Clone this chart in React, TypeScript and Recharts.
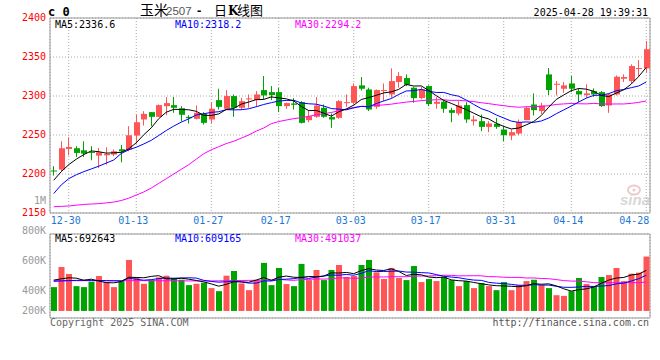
import React from 'react';
import { ComposedChart, Bar, Line, XAxis, YAxis, CartesianGrid, ReferenceArea, Cell } from 'recharts';

const dates = [
  '12-26','12-27','12-30','12-31','01-02','01-03','01-06','01-07','01-08','01-09',
  '01-10','01-13','01-14','01-15','01-16','01-17','01-20','01-21','01-22','01-23',
  '01-24','01-27','02-05','02-06','02-07','02-10','02-11','02-12','02-13','02-14',
  '02-17','02-18','02-19','02-20','02-21','02-24','02-25','02-26','02-27','02-28',
  '03-03','03-04','03-05','03-06','03-07','03-10','03-11','03-12','03-13','03-14',
  '03-17','03-18','03-19','03-20','03-21','03-24','03-25','03-26','03-27','03-28',
  '03-31','04-01','04-02','04-03','04-07','04-08','04-09','04-10','04-11','04-14',
  '04-15','04-16','04-17','04-18','04-21','04-22','04-23','04-24','04-25','04-28',
];

const opens = [
  2204.5, 2205.6, 2232.1, 2233, 2230.4, 2228.3, 2223.6, 2224, 2224.9, 2231.7,
  2231.3, 2249.3, 2269.9, 2279.3, 2273.3, 2287, 2288.3, 2284.4, 2273.3, 2270.7,
  2277.1, 2269.9, 2294.7, 2283.6, 2299.9, 2284.9, 2295.6, 2294.7, 2307.6, 2305,
  2305, 2287, 2290.4, 2292.1, 2269, 2273.3, 2284.9, 2272.9, 2272, 2290.9,
  2291.3, 2313.6, 2308.4, 2286.1, 2306.3, 2302, 2317.9, 2323, 2310.6, 2297.3,
  2312.7, 2290, 2292.6, 2281.9, 2277.6, 2288.3, 2267.7, 2267.7, 2260.4, 2264.3,
  2257, 2249.3, 2251.9, 2269, 2289.1, 2280.6, 2327.7, 2314.4, 2309.3, 2316.1,
  2306.3, 2301.1, 2306.3, 2305, 2287.9, 2302, 2322.1, 2319.1, 2335, 2335.4,
];
const highs = [
  2210, 2242, 2247.1, 2235.6, 2242, 2235.6, 2233.4, 2234.3, 2231.3, 2237.3,
  2261.3, 2276.3, 2280.6, 2279.5, 2289.1, 2298.6, 2298.6, 2287, 2275.4, 2287.9,
  2279.3, 2292.1, 2309.3, 2307.6, 2302, 2297.7, 2302, 2306.3, 2325.6, 2312.7,
  2310.6, 2291.7, 2297.3, 2293.4, 2281.9, 2298.6, 2289.1, 2277.6, 2294.7, 2302,
  2316.1, 2324.3, 2310.6, 2308.4, 2316.1, 2335.4, 2330.7, 2327.7, 2311.9, 2311.9,
  2313.6, 2298.6, 2294.7, 2284.9, 2293.4, 2292.1, 2275, 2276.3, 2267.7, 2272,
  2262.1, 2257, 2269.9, 2286.1, 2303.3, 2291.3, 2335.9, 2319.1, 2317.9, 2325.6,
  2309.3, 2314.9, 2309.7, 2306.3, 2303.3, 2326.4, 2327.7, 2340.6, 2346.1, 2370.6,
];
const lows = [
  2198, 2203.4, 2224, 2221.9, 2221.9, 2217.6, 2207.7, 2212, 2222.7, 2215,
  2229.1, 2239, 2262.1, 2261.3, 2273, 2275.4, 2278.4, 2267.7, 2264.7, 2270,
  2263.4, 2264.7, 2282.7, 2282.7, 2273.3, 2281.9, 2284.9, 2286.1, 2295.6, 2294.7,
  2279.3, 2283.6, 2282.7, 2264.7, 2266.4, 2272, 2272, 2259.1, 2270.7, 2286.1,
  2289.1, 2307.1, 2280.6, 2283.6, 2293.4, 2297.7, 2310.6, 2312.7, 2291.3, 2295.6,
  2287, 2283.6, 2278.4, 2266.4, 2275, 2265.6, 2262.1, 2254.9, 2253.6, 2257.9,
  2242, 2243.3, 2249.7, 2269, 2275, 2277.1, 2301.1, 2300.7, 2304.1, 2305,
  2292.1, 2297.7, 2299, 2286.1, 2278.4, 2300.7, 2317.9, 2316.1, 2324.7, 2329.9,
];
const closes = [
  2203.5, 2233, 2234.7, 2227, 2226.1, 2227.2, 2227.9, 2225.7, 2229.1, 2229.1,
  2249.7, 2266.4, 2277.1, 2273.3, 2288.3, 2290.9, 2284.9, 2275.9, 2271.6, 2278.4,
  2265.6, 2283.6, 2286.1, 2299.9, 2284.9, 2293.4, 2296.9, 2302, 2300.7, 2301.1,
  2287, 2290.9, 2288.7, 2265.6, 2274.1, 2287.9, 2273.3, 2269.9, 2293.4, 2292.1,
  2312.7, 2309.3, 2282.7, 2307.6, 2307.6, 2319.1, 2325.6, 2314.4, 2297.3, 2308.4,
  2289.6, 2292.6, 2283.6, 2278.4, 2287.9, 2269.9, 2269.9, 2260.4, 2264.7, 2260.4,
  2249.7, 2253.6, 2266.4, 2284.9, 2281.9, 2287.9, 2307.6, 2315.7, 2313.6, 2309.3,
  2302, 2303.3, 2302, 2287, 2302, 2324.7, 2324.3, 2338.4, 2335.9, 2360,
];
const volumes = [
  407000, 751000, 631000, 424000, 407000, 499000, 596000, 493000, 407000, 510000,
  871000, 579000, 464000, 527000, 573000, 602000, 562000, 533000, 441000, 464000,
  482000, 390000, 338000, 602000, 682000, 470000, 355000, 527000, 820000, 441000,
  734000, 459000, 424000, 803000, 527000, 699000, 527000, 699000, 785000, 579000,
  596000, 785000, 871000, 659000, 545000, 734000, 562000, 527000, 768000, 493000,
  545000, 510000, 579000, 527000, 424000, 510000, 390000, 476000, 424000, 355000,
  493000, 355000, 441000, 510000, 533000, 441000, 390000, 269000, 258000, 338000,
  562000, 459000, 424000, 579000, 613000, 734000, 510000, 636000, 654000, 929000,
];

const ma5Head = [2192, 2203, 2212, 2219];
const ma10Head = [2175, 2186, 2194, 2199, 2203, 2206.5, 2210, 2214, 2218];
const ma30Head = [
  2158, 2158.5, 2159, 2160, 2161, 2161.5, 2162, 2163, 2164, 2166,
  2169, 2173, 2177, 2182, 2188, 2194, 2200, 2206, 2212, 2219,
  2226, 2231, 2235, 2239, 2242, 2246, 2250, 2255, 2259,
];
const vma5Head = [527000, 548000, 566000, 560000];
const vma10Head = [505000, 512000, 518000, 522000, 524000, 522000, 520000, 518000, 515000];
const vma30Head = [
  518000, 518000, 517000, 517000, 517000, 516000, 516000, 516000, 516000, 516000,
  517000, 517000, 517000, 516000, 516000, 515000, 515000, 514000, 513000, 512000,
  512000, 513000, 514000, 516000, 518000, 520000, 522000, 524000, 526000,
];

const priceTicks = [2150, 2200, 2250, 2300, 2350, 2400];
const dateTicks = ['12-30', '01-13', '01-27', '02-17', '03-03', '03-17', '03-31', '04-14', '04-28'];
const volTickLabels = ['1M', '800K', '600K', '400K', '200K'];
const volTickValues = [1000000, 800000, 600000, 400000, 200000];
const priceLegend = ['MA5:2336.6', 'MA10:2318.2', 'MA30:2294.2'];
const volLegend = ['MA5:692643', 'MA10:609165', 'MA30:491037'];
const legendColors = ['#000000', '#0000ff', '#ff00ff'];
const titleText = { code: 'c 0', name: '玉米', contract: '2507', sep: '-', kind: '日', k: 'K', rest: '线图' };
const timeStamp = '2025-04-28 19:39:31';
const copyright = 'Copyright 2025 SINA.COM';
const siteUrl = 'http://finance.sina.com.cn';

const PRICE_MIN = 2150;
const PRICE_MAX = 2400;
const VOL_MIN = -120400;
const VOL_MAX = 1314000;

const RED = '#ff5555';
const GREEN = '#00a400';
const MONO = '"DejaVu Sans Mono", "Liberation Mono", monospace';

function movingAverage(values: number[], n: number, head: number[]) {
  return values.map((_, i) => {
    if (i < n - 1) return head[i];
    let s = 0;
    for (let k = i - n + 1; k <= i; k++) s += values[k];
    return s / n;
  });
}

const ma5 = movingAverage(closes, 5, ma5Head);
const ma10 = movingAverage(closes, 10, ma10Head);
const ma30 = movingAverage(closes, 30, ma30Head);
const vma5 = movingAverage(volumes, 5, vma5Head);
const vma10 = movingAverage(volumes, 10, vma10Head);
const vma30 = movingAverage(volumes, 30, vma30Head);

const data = dates.map((d, i) => ({
  date: d,
  open: opens[i],
  high: highs[i],
  low: lows[i],
  close: closes[i],
  range: [lows[i], highs[i]],
  volume: volumes[i],
  ma5: ma5[i],
  ma10: ma10[i],
  ma30: ma30[i],
  vma5: vma5[i],
  vma10: vma10[i],
  vma30: vma30[i],
}));

const volGridTicks = [0, 1, 2, 3, 4].map((j) => VOL_MIN + ((VOL_MAX - VOL_MIN) * j) / 4);

const Candle = (props: any) => {
  const { x, y, width, height, payload } = props;
  if (x == null || y == null || !payload) return null;
  const top = Math.min(y, y + height);
  const h = Math.abs(height);
  const { open, close, high, low } = payload;
  const span = high - low || 1;
  const pix = (v: number) => top + ((high - v) / span) * h;
  const up = close >= open;
  const color = up ? RED : GREEN;
  const bx = Math.round(x + width / 2 - 3);
  const bodyTop = pix(Math.max(open, close));
  const bodyBot = pix(Math.min(open, close));
  const bh = Math.max(1, bodyBot - bodyTop);
  return (
    <g>
      <line x1={bx + 2.5} x2={bx + 2.5} y1={top} y2={top + h} stroke={color} strokeWidth={1} />
      <rect x={bx} y={bodyTop} width={6} height={bh} fill={color} />
    </g>
  );
};

const PriceTick = (props: any) => {
  const { x, y, payload } = props;
  return (
    <text x={x} y={y + 2.5} textAnchor="end" fill="#ff0000" fontSize={10} fontFamily={MONO}>
      {payload.value}
    </text>
  );
};

const DateTick = (props: any) => {
  const { x, y, payload } = props;
  const last = payload.value === dateTicks[dateTicks.length - 1];
  return (
    <text
      x={last ? x + 3 : x - 3}
      y={y + 11}
      textAnchor={last ? 'end' : 'middle'}
      fill="#1e78d2"
      fontSize={10}
      fontFamily={MONO}
    >
      {payload.value}
    </text>
  );
};

const Overlay = () => {
  // label positions for the volume scale text column as Sina prints it (last label kept inside the frame)
  const labelY = (v: number) => Math.min(313.6, 204 + ((1000000 - v) / 200000) * 30.1);
  return (
    <svg
      width={660}
      height={360}
      style={{ position: 'absolute', left: 0, top: 0, pointerEvents: 'none' }}
    >
      <text x={48} y={16} fontSize={12} fontWeight="bold" fontFamily={MONO} fill="#000">
        {titleText.code}
      </text>
      <text y={15} fill="#000">
        <tspan x={140} fontSize={14} fontFamily='"Noto Sans CJK SC", sans-serif'>{titleText.name}</tspan>
        <tspan x={166} fontSize={11.5} fontFamily='"Liberation Sans", Arial, sans-serif' fill="#555">{titleText.contract}</tspan>
        <tspan x={197} fontSize={13} fontFamily='"Liberation Sans", Arial, sans-serif' fontWeight="bold">{titleText.sep}</tspan>
        <tspan x={214} fontSize={13} fontFamily='"Noto Sans CJK SC", sans-serif'>{titleText.kind}</tspan>
        <tspan x={228} fontSize={12} fontFamily='"DejaVu Serif", serif' fontWeight="bold">{titleText.k}</tspan>
        <tspan x={237} fontSize={13} fontFamily='"Noto Sans CJK SC", sans-serif'>{titleText.rest}</tspan>
      </text>
      <text x={648} y={16} textAnchor="end" fontSize={10} fontFamily={MONO} fill="#000">
        {timeStamp}
      </text>
      {priceLegend.map((t, i) => (
        <text key={'pl' + i} x={55 + 120 * i} y={27.5} fontSize={10} fontFamily={MONO} fill={legendColors[i]}>
          {t}
        </text>
      ))}
      {volLegend.map((t, i) => (
        <text key={'vl' + i} x={55 + 120 * i} y={242} fontSize={10} fontFamily={MONO} fill={legendColors[i]}>
          {t}
        </text>
      ))}
      {volTickLabels.map((t, i) => (
        <text key={'vt' + i} x={46} y={labelY(volTickValues[i])} textAnchor="end" fontSize={10} fontFamily={MONO} fill="#999">
          {t}
        </text>
      ))}
      <text x={50} y={326} fontSize={10} fontFamily={MONO} fill="#666">
        {copyright}
      </text>
      <text x={649} y={326} textAnchor="end" fontSize={10} fontFamily={MONO} fill="#555">
        {siteUrl}
      </text>
      <g opacity={0.55}>
        <ellipse cx={634} cy={190} rx={6} ry={4.5} fill="none" stroke="#e3a0a0" strokeWidth={2} />
        <circle cx={634} cy={190} r={1.6} fill="#e3a0a0" />
        <text x={620} y={205} fontSize={15} fontWeight="bold" fontStyle="italic" fontFamily='"Liberation Sans", Arial, sans-serif' fill="#b8b8b8">
          sina
        </text>
      </g>
    </svg>
  );
};

export default function App() {
  return (
    <div style={{ position: 'absolute', left: 0, top: 0, width: 660, height: 360, background: '#fff' }}>
      <div style={{ position: 'absolute', left: 0, top: 0 }}>
        <ComposedChart width={660} height={360} data={data} margin={{ top: 18, right: 10, bottom: 135, left: 0 }}>
          <CartesianGrid stroke="#aaa" strokeDasharray="1 2" />
          <XAxis
            dataKey="date"
            ticks={dateTicks}
            interval={0}
            tick={<DateTick />}
            tickLine={false}
            axisLine={false}
            tickSize={0}
            tickMargin={0}
            height={12}
          />
          <YAxis
            domain={[PRICE_MIN, PRICE_MAX]}
            ticks={priceTicks}
            interval={0}
            tick={<PriceTick />}
            tickLine={false}
            axisLine={false}
            tickSize={0}
            tickMargin={4}
            width={50}
          />
          <Bar dataKey="range" barSize={6} shape={<Candle />} isAnimationActive={false} />
          <Line dataKey="ma30" stroke="#ff00ff" strokeWidth={1} dot={false} isAnimationActive={false} />
          <Line dataKey="ma10" stroke="#0000ff" strokeWidth={1} dot={false} isAnimationActive={false} />
          <Line dataKey="ma5" stroke="#000000" strokeWidth={1} dot={false} isAnimationActive={false} />
          <ReferenceArea y1={PRICE_MIN} y2={PRICE_MAX} fill="none" stroke="#999" strokeWidth={1} ifOverflow="visible" />
        </ComposedChart>
      </div>
      <div style={{ position: 'absolute', left: 0, top: 0 }}>
        <ComposedChart width={660} height={360} data={data} margin={{ top: 234, right: 10, bottom: 42, left: 0 }}>
          <CartesianGrid stroke="#aaa" strokeDasharray="1 2" />
          <XAxis dataKey="date" ticks={dateTicks} interval={0} tick={false} tickLine={false} axisLine={false} height={0} />
          <YAxis
            domain={[VOL_MIN, VOL_MAX]}
            ticks={volGridTicks}
            interval={0}
            tick={false}
            tickLine={false}
            axisLine={false}
            width={50}
            allowDataOverflow
          />
          <Bar dataKey="volume" barSize={6} isAnimationActive={false}>
            {data.map((d, i) => (
              <Cell key={i} fill={d.close >= d.open ? RED : GREEN} />
            ))}
          </Bar>
          <Line dataKey="vma30" stroke="#ff00ff" strokeWidth={1} dot={false} isAnimationActive={false} />
          <Line dataKey="vma10" stroke="#0000ff" strokeWidth={1} dot={false} isAnimationActive={false} />
          <Line dataKey="vma5" stroke="#000000" strokeWidth={1} dot={false} isAnimationActive={false} />
          <ReferenceArea y1={VOL_MIN} y2={VOL_MAX} fill="none" stroke="#999" strokeWidth={1} ifOverflow="visible" />
        </ComposedChart>
      </div>
      <Overlay />
    </div>
  );
}
